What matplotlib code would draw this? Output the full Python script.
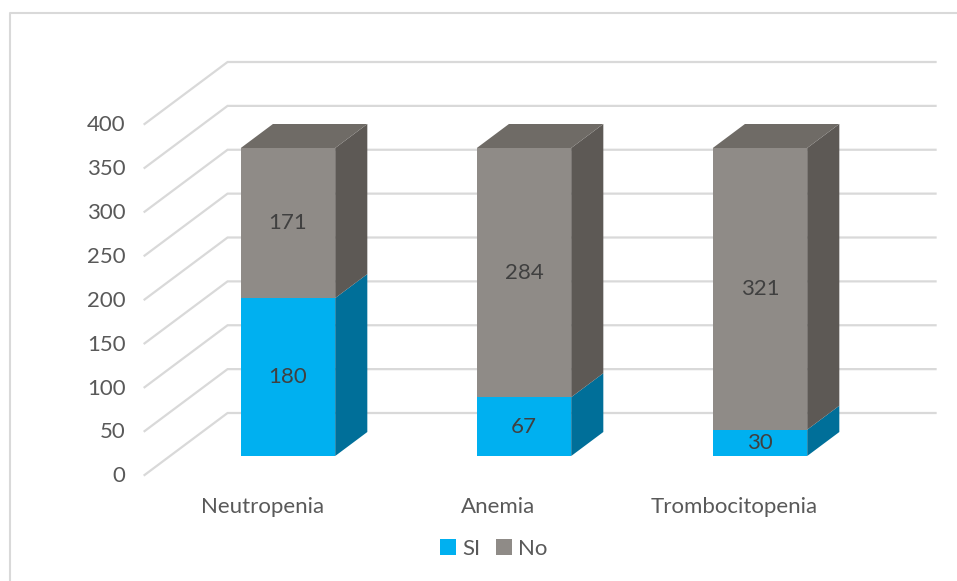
import matplotlib
matplotlib.use("Agg")
import matplotlib.pyplot as plt
from matplotlib.patches import Polygon, Patch
from matplotlib.lines import Line2D

# ---- data -------------------------------------------------------------
categories = ["Neutropenia", "Anemia", "Trombocitopenia"]
si_values = [180, 67, 30]
no_values = [171, 284, 321]
series_names = ["SI", "No"]
y_ticks = [0, 50, 100, 150, 200, 250, 300, 350, 400]

# ---- styling ------------------------------------------------------------
FONT = "Lato"
FS = 16
SI_FRONT, SI_SIDE, SI_TOP = "#00B0F0", "#006F99", "#0090C4"
NO_FRONT, NO_SIDE, NO_TOP = "#8F8B87", "#5D5955", "#6F6B66"
GRID = "#D9D9D9"
TICK_TXT = "#595959"
LABEL_TXT = "#404040"

W, H = 957, 581
fig = plt.figure(figsize=(W / 100, H / 100), dpi=100)
ax = fig.add_axes([0, 0, 1, 1])

# data scale: one category step and one value unit expressed in pixels
PX_X, PX_Y = 236.0, 0.8775
X0_PX, Y0_PX = 288.0, 456.0
ax.set_xlim(-X0_PX / PX_X, (W - X0_PX) / PX_X)
ax.set_ylim(-(H - Y0_PX) / PX_Y, Y0_PX / PX_Y)
ax.axis("off")

# oblique 3-D projection: depth 0 = front of side wall, 1 = back wall
DX_FULL, DY_FULL = 83 / PX_X, 62 / PX_Y
BAR_D0, BAR_D1 = 0.3065, 0.6935
BAR_W = 0.4
WALL_X0, WALL_X1 = -0.5, 2.5


def proj(x, v, d):
    """Project (category x, value v, depth d) onto the bar-front plane."""
    return x + (d - BAR_D0) * DX_FULL, v + (d - BAR_D0) * DY_FULL


# ---- walls: back-wall gridlines and side-wall diagonals ---------------
for t in y_ticks:
    xa, ya = proj(WALL_X0, t, 0)
    xb, yb = proj(WALL_X0, t, 1)
    xc, yc = proj(WALL_X1, t, 1)
    ax.plot([xa, xb, xc], [ya, yb, yc], color=GRID, lw=1.6,
            solid_joinstyle="miter", zorder=1)
    ax.text(xa - 19 / PX_X, ya - 1.5, str(t), ha="right", va="center",
            fontsize=FS, color=TICK_TXT, family=FONT)

# ---- stacked 3-D bars --------------------------------------------------
def draw_box(xc, bottom, height, side, top, draw_top):
    xl, xr = xc - BAR_W / 2, xc + BAR_W / 2
    ytop = bottom + height
    # right side face
    p = [proj(xr, bottom, BAR_D0), proj(xr, bottom, BAR_D1),
         proj(xr, ytop, BAR_D1), proj(xr, ytop, BAR_D0)]
    ax.add_patch(Polygon(p, closed=True, facecolor=side, edgecolor="none",
                         zorder=3))
    if draw_top:
        p = [proj(xl, ytop, BAR_D0), proj(xr, ytop, BAR_D0),
             proj(xr, ytop, BAR_D1), proj(xl, ytop, BAR_D1)]
        ax.add_patch(Polygon(p, closed=True, facecolor=top,
                             edgecolor="none", zorder=3))


xs = list(range(len(categories)))
for i in xs:
    draw_box(i, 0, si_values[i], SI_SIDE, SI_TOP, False)
    draw_box(i, si_values[i], no_values[i], NO_SIDE, NO_TOP, True)

ax.bar(xs, si_values, width=BAR_W, color=SI_FRONT, zorder=4)
ax.bar(xs, no_values, width=BAR_W, bottom=si_values, color=NO_FRONT,
       zorder=4)

for i in xs:
    ax.text(i, si_values[i] / 2, str(si_values[i]), ha="center",
            va="center", fontsize=FS, color=LABEL_TXT, family=FONT, zorder=5)
    ax.text(i, si_values[i] + no_values[i] / 2, str(no_values[i]),
            ha="center", va="center", fontsize=FS, color=LABEL_TXT,
            family=FONT, zorder=5)
    cx, _ = proj(i, 0, 0)
    ax.text(cx, -58, categories[i], ha="center", va="center", fontsize=FS,
            color=TICK_TXT, family=FONT)

# ---- legend ------------------------------------------------------------
handles = [Patch(facecolor=SI_FRONT, edgecolor="none"),
           Patch(facecolor=NO_FRONT, edgecolor="none")]
fig.legend(handles, series_names, loc="center",
           bbox_to_anchor=(0.516, 1 - 549 / H), ncol=2, frameon=False,
           handlelength=0.7, handleheight=0.7, handletextpad=0.3,
           columnspacing=0.7, prop={"family": FONT, "size": FS},
           labelcolor=TICK_TXT)

# ---- chart-area border -------------------------------------------------
bx, by = 9.5 / W, 1 - 12.5 / H
fig.add_artist(Line2D([bx, bx, 1.0], [0.0, by, by], transform=fig.transFigure,
                      color=GRID, lw=1.5))

fig.savefig("out.png", dpi=100)
